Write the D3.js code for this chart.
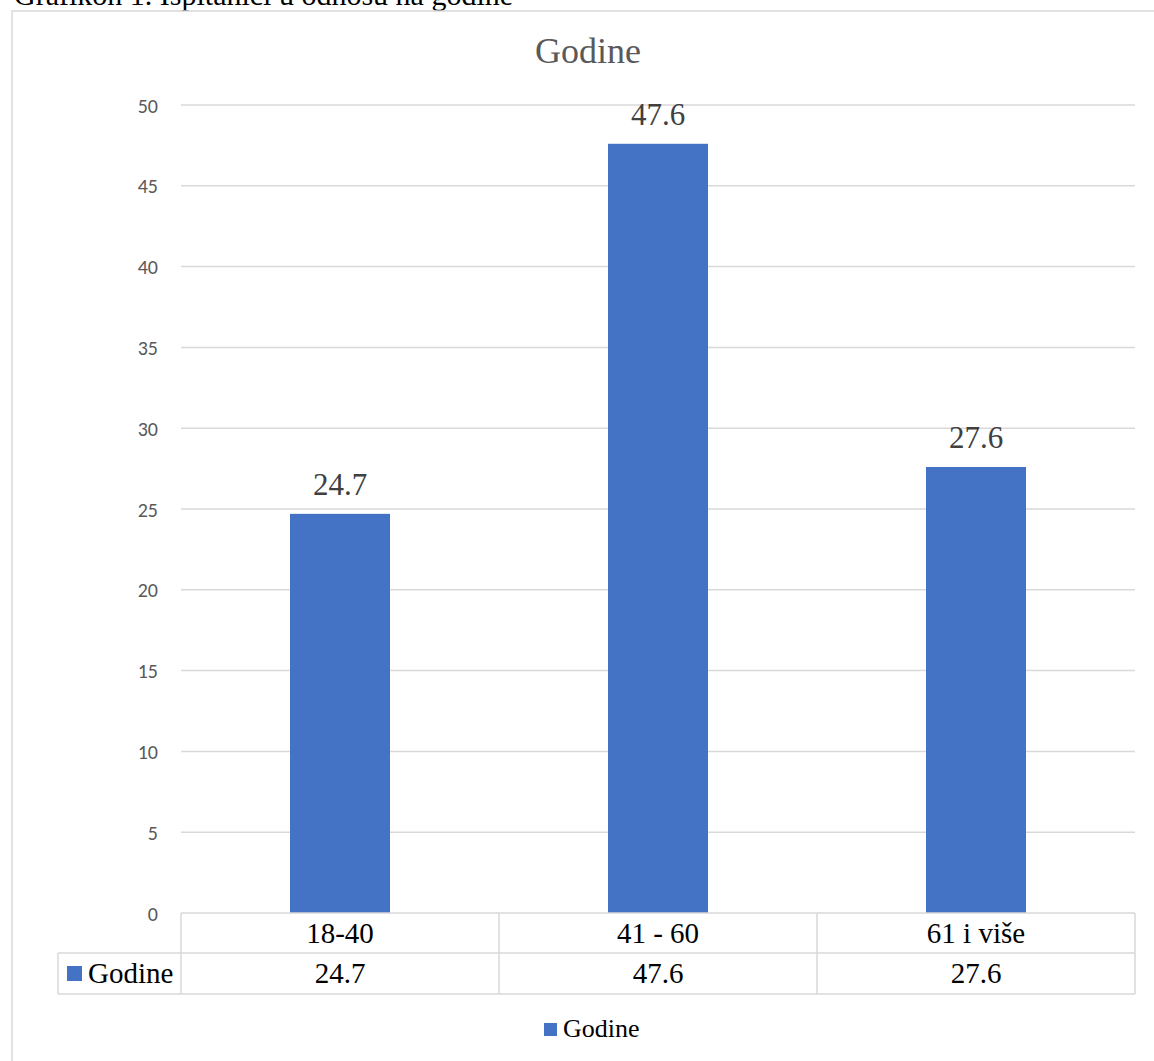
<!DOCTYPE html>
<html><head><meta charset="utf-8">
<script src="https://cdn.jsdelivr.net/npm/d3@7"></script>
<style>html,body{margin:0;padding:0;background:#fff;overflow:hidden}</style>
</head><body>
<svg id="c" width="1154" height="1061"></svg>
<script>
const categories = ["18-40", "41 - 60", "61 i više"];
const values = [24.7, 47.6, 27.6];
const yTicks = [0, 5, 10, 15, 20, 25, 30, 35, 40, 45, 50];
const seriesName = "Godine";
const chartTitle = "Godine";
const caption = "Grafikon 1. Ispitanici u odnosu na godine";

(function () {
const svg = d3.select("#c");
const serif = "'Liberation Serif','Times New Roman',serif";
const sans = "Carlito,'Liberation Sans',Arial,sans-serif";
const blue = "#4472c4", grid = "#d9d9d9";

// caption cut off at top
svg.append("text").attr("x", 14).attr("y", 5).attr("font-family", serif)
  .attr("font-size", 30).attr("fill", "#000").text(caption);

// outer frame
svg.append("rect").attr("x", 12).attr("y", 11).attr("width", 1160).attr("height", 1100)
  .attr("fill", "none").attr("stroke", grid).attr("stroke-width", 1.5);

const pL = 181, pR = 1135, pT = 105, pB = 913;
const x = d3.scaleBand().domain(categories).range([pL, pR]).paddingInner(0).paddingOuter(0);
const y = d3.scaleLinear().domain([0, 50]).range([pB, pT]);

// gridlines
svg.append("g").selectAll("line").data(yTicks.filter(d => d > 0)).join("line")
  .attr("x1", pL).attr("x2", pR).attr("y1", d => y(d)).attr("y2", d => y(d))
  .attr("stroke", grid).attr("stroke-width", 1.5);

// y axis labels
const yAxis = d3.axisLeft(y).tickValues(yTicks).tickSize(0).tickPadding(0);
const ga = svg.append("g").attr("transform", `translate(158,0)`).call(yAxis);
ga.select(".domain").remove();
ga.selectAll("text").attr("font-family", sans).attr("font-size", 20).attr("fill", "#595959")
  .attr("dy", "0.35em");

// title
svg.append("text").attr("x", 588).attr("y", 63).attr("text-anchor", "middle")
  .attr("font-family", serif).attr("font-size", 36).attr("fill", "#595959").text(chartTitle);

// bars
const bw = 100;
svg.append("g").selectAll("rect").data(values).join("rect")
  .attr("x", (d, i) => x(categories[i]) + x.bandwidth() / 2 - bw / 2)
  .attr("width", bw)
  .attr("y", d => y(d)).attr("height", d => y(0) - y(d)).attr("fill", blue);

// data labels
svg.append("g").selectAll("text").data(values).join("text")
  .attr("x", (d, i) => x(categories[i]) + x.bandwidth() / 2)
  .attr("y", d => y(d) - 19).attr("text-anchor", "middle")
  .attr("font-family", serif).attr("font-size", 31).attr("fill", "#404040")
  .text(d => d.toFixed(1));

// data table
const r1 = pB, r2 = 953, r3 = 994, lc = 58;
const tg = svg.append("g").attr("stroke", grid).attr("stroke-width", 1.5).attr("fill", "none");
tg.append("line").attr("x1", pL).attr("x2", pR).attr("y1", r1).attr("y2", r1);
tg.append("line").attr("x1", lc).attr("x2", pR).attr("y1", r2).attr("y2", r2);
tg.append("line").attr("x1", lc).attr("x2", pR).attr("y1", r3).attr("y2", r3);
tg.append("line").attr("x1", lc).attr("x2", lc).attr("y1", r2).attr("y2", r3);
const vx = [pL, ...categories.map(c => x(c) + x.bandwidth())];
tg.selectAll(".v").data(vx).join("line").attr("x1", d => d).attr("x2", d => d)
  .attr("y1", r1).attr("y2", r3);

svg.append("g").selectAll("text").data(categories).join("text")
  .attr("x", d => x(d) + x.bandwidth() / 2).attr("y", 943).attr("text-anchor", "middle")
  .attr("font-family", serif).attr("font-size", 29).attr("fill", "#000").text(d => d);
svg.append("g").selectAll("text").data(values).join("text")
  .attr("x", (d, i) => x(categories[i]) + x.bandwidth() / 2).attr("y", 983).attr("text-anchor", "middle")
  .attr("font-family", serif).attr("font-size", 29).attr("fill", "#000").text(d => d.toFixed(1));

svg.append("rect").attr("x", 67).attr("y", 966).attr("width", 15).attr("height", 15).attr("fill", blue);
svg.append("text").attr("x", 88).attr("y", 983).attr("font-family", serif).attr("font-size", 29)
  .attr("fill", "#000").text(seriesName);

// legend
svg.append("rect").attr("x", 544).attr("y", 1023).attr("width", 13).attr("height", 13).attr("fill", blue);
svg.append("text").attr("x", 563).attr("y", 1037).attr("font-family", serif).attr("font-size", 26)
  .attr("fill", "#000").text(seriesName);
})();
</script>
</body></html>
